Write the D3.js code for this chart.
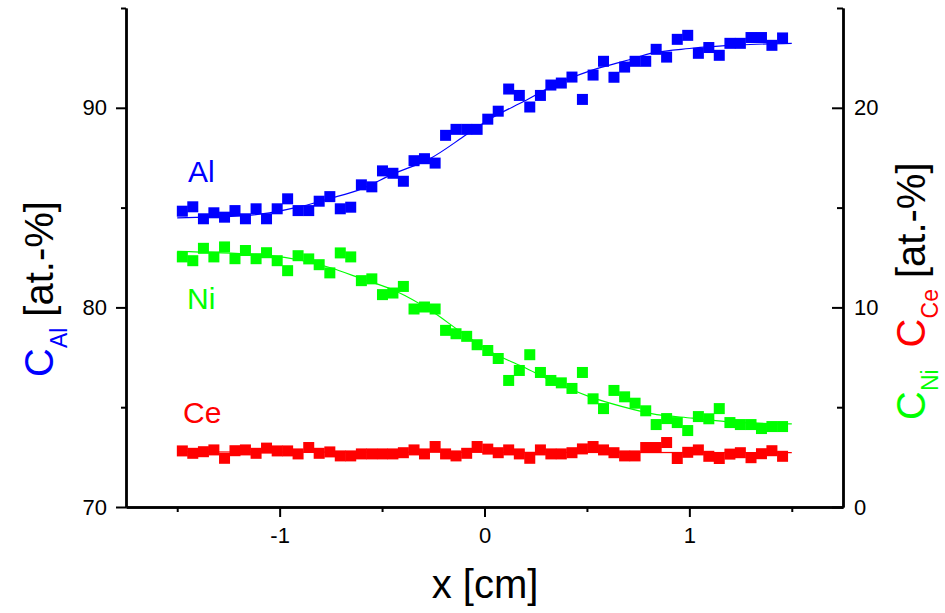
<!DOCTYPE html>
<html>
<head>
<meta charset="utf-8">
<script src="https://cdn.jsdelivr.net/npm/d3@7"></script>
<style>
  body { margin: 0; background: #fff; }
  svg { display: block; font-family: Arial, "Liberation Sans", sans-serif; }
</style>
</head>
<body>
<div id="chart"></div>
<script>
// ========================
// DATA
// ========================
const xPos = [-1.475, -1.424, -1.372, -1.321, -1.269, -1.218, -1.167, -1.115, -1.064, -1.012,
              -0.961, -0.910, -0.858, -0.807, -0.755, -0.704, -0.653, -0.601, -0.550, -0.498,
              -0.447, -0.396, -0.344, -0.293, -0.241, -0.190, -0.139, -0.087, -0.036, 0.016,
              0.067, 0.118, 0.170, 0.221, 0.273, 0.324, 0.375, 0.427, 0.478, 0.530,
              0.581, 0.632, 0.684, 0.735, 0.787, 0.838, 0.889, 0.941, 0.992, 1.044,
              1.095, 1.146, 1.198, 1.249, 1.301, 1.352, 1.403, 1.455];

// C_Al, left axis
const alValues = [84.82, 85.04, 84.44, 84.74, 84.52, 84.85, 84.44, 84.94, 84.44, 84.94,
                  85.44, 84.85, 84.85, 85.32, 85.55, 84.94, 85.02, 86.14, 86.04, 86.84,
                  86.72, 86.32, 87.35, 87.45, 87.23, 88.62, 88.92, 88.92, 88.92, 89.43,
                  89.83, 90.94, 90.62, 90.04, 90.62, 91.14, 91.24, 91.54, 90.42, 91.64,
                  92.33, 91.53, 92.04, 92.33, 92.33, 92.93, 92.54, 93.43, 93.63, 92.73,
                  93.02, 92.63, 93.23, 93.23, 93.52, 93.52, 93.13, 93.50];

// C_Ni, right axis
const niValues = [12.53, 12.34, 12.96, 12.53, 13.03, 12.44, 12.85, 12.44, 12.74, 12.34,
                  11.84, 12.59, 12.43, 12.14, 11.73, 12.73, 12.53, 11.34, 11.43, 10.64,
                  10.72, 11.05, 9.92, 10.02, 9.92, 8.85, 8.68, 8.55, 8.13, 7.84,
                  7.44, 6.34, 6.84, 7.63, 6.74, 6.34, 6.22, 5.94, 6.74, 5.42,
                  4.93, 5.84, 5.52, 5.20, 4.82, 4.13, 4.43, 4.23, 3.83, 4.53,
                  4.42, 4.93, 4.23, 4.13, 4.13, 3.93, 4.03, 4.03];

// C_Ce, right axis
const ceValues = [2.81, 2.69, 2.77, 2.86, 2.44, 2.82, 2.86, 2.69, 2.95, 2.81,
                  2.81, 2.66, 2.98, 2.69, 2.76, 2.56, 2.56, 2.66, 2.66, 2.66,
                  2.66, 2.72, 2.86, 2.66, 3.03, 2.66, 2.56, 2.69, 3.03, 2.90,
                  2.72, 2.86, 2.66, 2.44, 2.86, 2.66, 2.66, 2.72, 2.91, 3.03,
                  2.86, 2.72, 2.56, 2.56, 2.98, 2.98, 3.23, 2.43, 2.74, 2.86,
                  2.54, 2.43, 2.65, 2.72, 2.47, 2.67, 2.82, 2.54];

// fitted curves
const alFit = [[-1.5, 84.49], [-1.21, 84.57], [-1.05, 84.74], [-0.89, 85.07], [-0.76, 85.44],
               [-0.6, 85.94], [-0.445, 86.69], [-0.27, 87.43], [-0.086, 88.67], [0.024, 89.42],
               [0.195, 90.34], [0.366, 91.26], [0.512, 91.84], [0.683, 92.34], [0.829, 92.76],
               [1.0, 92.97], [1.244, 93.15], [1.5, 93.23]];
const niFit = [[-1.5, 12.81], [-1.049, 12.59], [-0.756, 12.0], [-0.595, 11.42], [-0.429, 10.8],
               [-0.268, 9.88], [-0.107, 8.71], [0.034, 7.75], [0.185, 7.04], [0.351, 6.21],
               [0.512, 5.53], [0.673, 5.03], [0.815, 4.68], [1.015, 4.45], [1.18, 4.28], [1.5, 4.16]];
const ceFit = [[-1.5, 2.76], [1.5, 2.72]];

const xMajor = [-1, 0, 1];
const xMinor = [-1.5, -0.5, 0.5, 1.5];
const leftMajor = [70, 80, 90];
const leftMinor = [75, 85, 95];
const rightMajor = [0, 10, 20];
const rightMinor = [5, 15, 25];

// ========================
// CHART
// ========================
const width = 945, height = 613;
const BLUE = "#0000ff", GREEN = "#00ff00", RED = "#ff0000";

const svg = d3.select("#chart").append("svg")
    .attr("width", width)
    .attr("height", height);

svg.append("rect").attr("width", width).attr("height", height).attr("fill", "#fff");

const x = d3.scaleLinear().domain([-1.75, 1.75]).range([126, 843]);
const yL = d3.scaleLinear().domain([70, 95]).range([507, 8]);
const yR = d3.scaleLinear().domain([0, 25]).range([507, 8]);

const markSize = 11;

function drawSeries(values, scale, color, fit) {
    const g = svg.append("g");
    g.selectAll("rect")
        .data(values)
        .enter()
        .append("rect")
        .attr("x", (d, i) => x(xPos[i]) - markSize / 2)
        .attr("y", d => scale(d) - markSize / 2)
        .attr("width", markSize)
        .attr("height", markSize)
        .attr("fill", color);
    const line = d3.line()
        .x(d => x(d[0]))
        .y(d => scale(d[1]))
        .curve(d3.curveMonotoneX);
    g.append("path")
        .attr("d", line(fit))
        .attr("fill", "none")
        .attr("stroke", color)
        .attr("stroke-width", 1.2);
}

drawSeries(ceValues, yR, RED, ceFit);
drawSeries(niValues, yR, GREEN, niFit);
drawSeries(alValues, yL, BLUE, alFit);

// axes
function styleAxis(g) {
    g.selectAll("path.domain").attr("stroke", "#000").attr("stroke-width", 2.4);
    g.selectAll(".tick line").attr("stroke", "#000").attr("stroke-width", 2);
    g.selectAll(".tick text").attr("fill", "#000").attr("font-size", "22px")
        .attr("font-family", "Arial, 'Liberation Sans', sans-serif");
}

const noLabel = () => "";
const plain = d => String(d);   // hyphen-minus like the original, not U+2212

svg.append("g").attr("transform", "translate(0,507)")
    .call(d3.axisBottom(x).tickValues(xMinor).tickSize(5).tickSizeOuter(0).tickFormat(noLabel))
    .call(styleAxis);
svg.append("g").attr("transform", "translate(0,507)")
    .call(d3.axisBottom(x).tickValues(xMajor).tickSize(10).tickPadding(10).tickSizeOuter(0).tickFormat(plain))
    .call(styleAxis);

svg.append("g").attr("transform", "translate(126,0)")
    .call(d3.axisLeft(yL).tickValues(leftMinor).tickSize(5).tickSizeOuter(0).tickFormat(noLabel))
    .call(styleAxis);
svg.append("g").attr("transform", "translate(126,0)")
    .call(d3.axisLeft(yL).tickValues(leftMajor).tickSize(10).tickPadding(9).tickSizeOuter(0).tickFormat(plain))
    .call(styleAxis);

svg.append("g").attr("transform", "translate(843,0)")
    .call(d3.axisRight(yR).tickValues(rightMinor).tickSize(-6).tickSizeOuter(0).tickFormat(noLabel))
    .call(styleAxis);
svg.append("g").attr("transform", "translate(843,0)")
    .call(d3.axisRight(yR).tickValues(rightMajor).tickSize(-11).tickPadding(11).tickSizeOuter(0).tickFormat(plain))
    .call(styleAxis);

// series labels
const labels = [
    { text: "Al", x: 188, y: 182, color: BLUE },
    { text: "Ni", x: 187, y: 309, color: GREEN },
    { text: "Ce", x: 183, y: 423, color: RED }
];
svg.append("g").selectAll("text")
    .data(labels)
    .enter()
    .append("text")
    .attr("x", d => d.x)
    .attr("y", d => d.y)
    .attr("fill", d => d.color)
    .attr("font-size", "30px")
    .text(d => d.text);

// axis titles
svg.append("text")
    .attr("x", 485)
    .attr("y", 598)
    .attr("text-anchor", "middle")
    .attr("font-size", "40px")
    .attr("fill", "#000")
    .text("x [cm]");

const leftTitle = svg.append("text")
    .attr("transform", "translate(53,377) rotate(-90)")
    .attr("font-size", "40px");
leftTitle.append("tspan").attr("fill", BLUE).text("C");
leftTitle.append("tspan").attr("fill", BLUE).attr("font-size", "23px").attr("dy", 14).text("Al");
leftTitle.append("tspan").attr("fill", "#000").attr("dy", -14).attr("dx", 11).text("[at.-%]");

const rightTitle = svg.append("text")
    .attr("transform", "translate(925,420) rotate(-90)")
    .attr("font-size", "40px");
rightTitle.append("tspan").attr("fill", GREEN).text("C");
rightTitle.append("tspan").attr("fill", GREEN).attr("font-size", "23px").attr("dy", 13).text("Ni");
rightTitle.append("tspan").attr("fill", RED).attr("dy", -13).attr("dx", 22).text("C");
rightTitle.append("tspan").attr("fill", RED).attr("font-size", "23px").attr("dy", 13).text("Ce");
rightTitle.append("tspan").attr("fill", "#000").attr("dy", -13).attr("dx", 11).text("[at.-%]");
</script>
</body>
</html>
